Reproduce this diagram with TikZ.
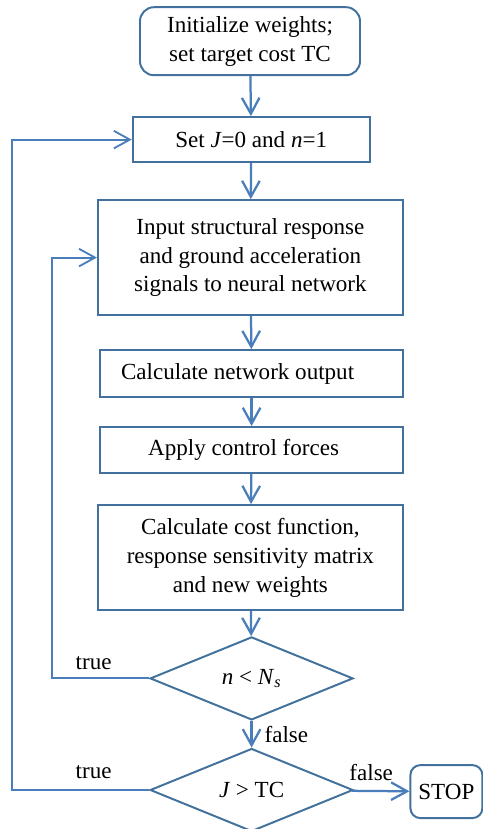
\documentclass[tikz,border=0pt]{standalone}
\usepackage{fontspec}
\setmainfont{Liberation Serif}
\usetikzlibrary{arrows.meta,shapes.geometric}
\definecolor{boxblue}{RGB}{65,113,156}
\definecolor{lineblue}{RGB}{74,126,187}

\begin{document}
\begin{tikzpicture}[>={Straight Barb[length=4mm,width=4.4mm]},
  every node/.style={font=\fontsize{16.4}{20.5}\selectfont},
  box/.style={draw=boxblue,line width=1.4pt,align=center,inner sep=0pt},
  decision/.style={draw=boxblue,line width=1.4pt,diamond,inner sep=0pt,minimum width=5.075cm,minimum height=2.075cm},
  flow/.style={->,draw=lineblue,line width=1.6pt},
  back/.style={->,draw=lineblue,line width=1.3pt}]
    \useasboundingbox (0,0) rectangle (12.075,-20.725);
    \node[box,rounded corners=0.35cm,minimum width=5.5cm,minimum height=1.7cm] (init) at (6.25,-1.03) {Initialize weights;\\set target cost TC};
    \node[box,minimum width=5.925cm,minimum height=1.125cm] (set) at (6.28,-3.49) {Set \textit{J}=0 and \textit{n}=1};
    \node[box,minimum width=7.625cm,minimum height=2.875cm] (input) at (6.26,-6.44) {Input structural response\\and ground acceleration\\signals to neural network};
    \node[box,minimum width=7.575cm,minimum height=1.175cm] (netout) at (6.29,-9.34) {Calculate network output\hspace{0.7cm}};
    \node[box,minimum width=7.575cm,minimum height=1.15cm] (force) at (6.29,-11.25) {Apply control forces\hspace{0.4cm}};
    \node[box,minimum width=7.625cm,minimum height=2.625cm] (cost) at (6.26,-13.94) {Calculate cost function,\\response sensitivity matrix\\and new weights};
    \node[decision] (dn) at (6.29,-16.96) {\textit{n} < \textit{N}\textsubscript{\textit{s}}};
    \node[decision] (dj) at (6.29,-19.75) {\textit{J} > TC};
    \node[box,rounded corners=0.25cm,minimum width=1.8cm,minimum height=1.325cm] (stop) at (11.16,-19.79) {STOP};
    \node (truen) at (2.34,-16.58) {true};
    \node (truej) at (2.34,-19.3) {true};
    \node (falsen) at (7.16,-18.35) {false};
    \node (falsej) at (9.28,-19.3) {false};
    \coordinate (loopn) at (1.3,0);
    \coordinate (loopj) at (0.3,0);
    \draw[flow] (init)--(set);
    \draw[flow] (set)--(input);
    \draw[flow] (input)--(netout);
    \draw[flow] (netout)--(force);
    \draw[flow] (force)--(cost);
    \draw[flow] (cost)--(dn);
    \draw[flow] (dn)--(dj);
    \draw[flow] (dj)--(stop);
    \draw[back] (dn.west) -| (loopn |- input.west) -- (input.west);
    \draw[back] (dj.west) -| (loopj |- set.west) -- (set.west);
  \end{tikzpicture}
\end{document}
